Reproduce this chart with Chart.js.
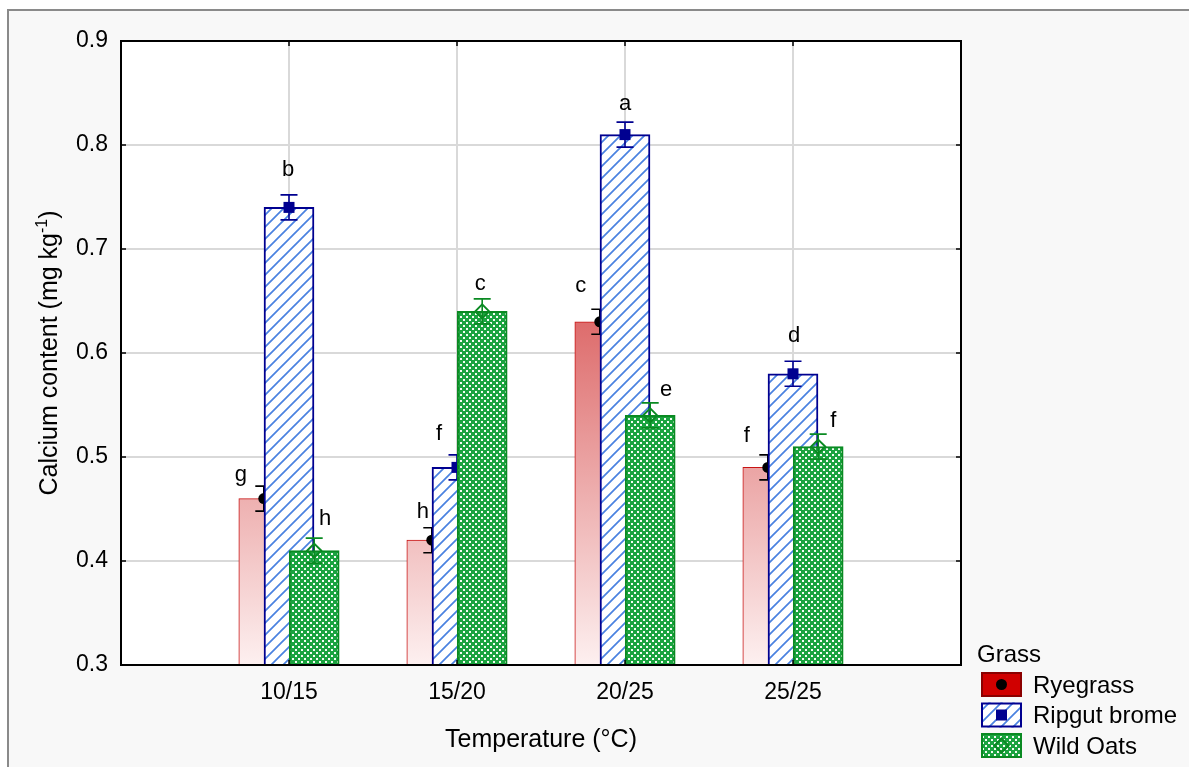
<!DOCTYPE html>
<html lang="en">
<head>
  <meta charset="UTF-8" />
  <title>Calcium content by temperature</title>
  <script src="https://cdn.jsdelivr.net/npm/chart.js"></script>
  <style>
    html, body {
      margin: 0;
      padding: 0;
      width: 1189px;
      height: 767px;
      overflow: hidden;
      background: #fff;
    }
    .frame {
      position: absolute;
      left: 7px;
      top: 9px;
      width: 1200px;
      height: 780px;
      border-top: 2px solid #8a8a8a;
      border-left: 2px solid #8a8a8a;
      background: #f8f8f8;
    }
    #chart {
      position: absolute;
      left: 0;
      top: 0;
    }
  </style>
</head>
<body>
  <div class="frame"></div>
  <canvas id="chart" width="1189" height="767"></canvas>

  <script>
    const temps = ['10/15', '15/20', '20/25', '25/25'];
    const yTicks = [0.3, 0.4, 0.5, 0.6, 0.7, 0.8, 0.9];
    const grassNames = ['Ryegrass', 'Ripgut brome', 'Wild Oats'];

    const ryegrass = [0.46, 0.42, 0.63, 0.49];
    const ripgut   = [0.74, 0.49, 0.81, 0.58];
    const wildOats = [0.41, 0.64, 0.54, 0.51];

    const ryegrassErr = [0.012, 0.012, 0.012, 0.012];
    const ripgutErr   = [0.012, 0.012, 0.012, 0.012];
    const wildOatsErr = [0.012, 0.012, 0.012, 0.012];

    const ryegrassLetters = ['g', 'h', 'c', 'f'];
    const ripgutLetters   = ['b', 'f', 'a', 'd'];
    const wildOatsLetters = ['h', 'c', 'e', 'f'];

    // nudges (px right, px up from the cap) so letters clear the next bar
    const ryegrassNudge = [[-23, 5], [-9, 10], [-19, 17], [-21, 13]];
    const ripgutNudge   = [[-1, 19], [-18, 15], [0, 12], [1, 19]];
    const wildOatsNudge = [[11, 13], [-2, 9], [16, 7], [15, 7]];

    const barShift = 0.15;   // overlap of the three bars, in category units
    const FONT = '"Liberation Sans", Arial, sans-serif';
    const NAVY = '#000090';
    const GREEN = '#0a8a22';

    const canvas = document.getElementById('chart');
    const ctx = canvas.getContext('2d');

    function hatch() {
      const t = document.createElement('canvas');
      t.width = 12; t.height = 12;
      const g = t.getContext('2d');
      g.fillStyle = '#fff';
      g.fillRect(0, 0, 12, 12);
      g.strokeStyle = '#4a82e0';
      g.lineWidth = 1.7;
      g.beginPath();
      g.moveTo(-2, 14); g.lineTo(14, -2);
      g.moveTo(-8, 8); g.lineTo(8, -8);
      g.moveTo(4, 20); g.lineTo(20, 4);
      g.stroke();
      return ctx.createPattern(t, 'repeat');
    }

    function checker() {
      const t = document.createElement('canvas');
      t.width = 6; t.height = 6;
      const g = t.getContext('2d');
      g.fillStyle = '#1aa33f';
      g.fillRect(0, 0, 6, 6);
      g.fillStyle = '#f4fcf4';
      g.fillRect(1, 1, 2, 2);
      g.fillRect(4, 4, 2, 2);
      return ctx.createPattern(t, 'repeat');
    }

    const hatchFill = hatch();
    const checkerFill = checker();

    function redGradient(c) {
      const a = c.chart.chartArea;
      if (!a) return '#e06060';
      const g = c.chart.ctx.createLinearGradient(0, a.bottom, 0, a.top);
      g.addColorStop(0, '#fdf0f0');
      g.addColorStop(1, '#c40000');
      return g;
    }

    function marker(c, kind, x, y, color) {
      c.save();
      c.fillStyle = color;
      c.strokeStyle = color;
      if (kind === 'circle') {
        c.beginPath();
        c.arc(x, y, 5.5, 0, Math.PI * 2);
        c.fill();
      } else if (kind === 'square') {
        c.fillRect(x - 5.5, y - 5.5, 11, 11);
      } else {
        c.lineWidth = 2;
        c.beginPath();
        c.moveTo(x, y - 7); c.lineTo(x + 7, y); c.lineTo(x, y + 7); c.lineTo(x - 7, y);
        c.closePath();
        c.stroke();
      }
      c.restore();
    }

    const series = [
      { vals: ryegrass, err: ryegrassErr, letters: ryegrassLetters, nudge: ryegrassNudge, kind: 'circle', color: '#000' },
      { vals: ripgut, err: ripgutErr, letters: ripgutLetters, nudge: ripgutNudge, kind: 'square', color: NAVY },
      { vals: wildOats, err: wildOatsErr, letters: wildOatsLetters, nudge: wildOatsNudge, kind: 'diamond', color: GREEN }
    ];

    function drawYTitle(c, cx, cy) {
      const big = '25px ' + FONT, small = '16px ' + FONT;
      const a = 'Calcium content (mg kg', sup = '-1', b = ')';
      c.save();
      c.translate(cx, cy);
      c.rotate(-Math.PI / 2);
      c.fillStyle = '#000';
      c.textBaseline = 'alphabetic';
      c.font = big;
      const wa = c.measureText(a).width, wb = c.measureText(b).width;
      c.font = small;
      const ws = c.measureText(sup).width;
      let x = -(wa + ws + wb) / 2;
      c.font = big; c.fillText(a, x, 9); x += wa;
      c.font = small; c.fillText(sup, x, -1); x += ws;
      c.font = big; c.fillText(b, x, 9);
      c.restore();
    }

    function drawLegend(c) {
      const fills = ['#d00000', hatchFill, checkerFill];
      const borders = ['#8b0000', NAVY, GREEN];
      c.save();
      c.fillStyle = '#000';
      c.textBaseline = 'middle';
      c.font = '24px ' + FONT;
      c.fillText('Grass', 977, 655);
      grassNames.forEach((name, i) => {
        const top = 672 + i * 30.5;
        c.fillStyle = fills[i];
        c.fillRect(981, top, 41, 25);
        c.strokeStyle = borders[i];
        c.lineWidth = 2;
        c.strokeRect(982, top + 1, 39, 23);
        marker(c, series[i].kind, 1001.5, top + 12.5, series[i].color);
        c.fillStyle = '#000';
        c.fillText(name, 1033, top + 14);
      });
      c.restore();
    }

    const decor = {
      id: 'decor',
      beforeDraw(chart) {
        const a = chart.chartArea;
        chart.ctx.save();
        chart.ctx.fillStyle = '#fff';
        chart.ctx.fillRect(a.left, a.top, a.width, a.height);
        chart.ctx.restore();
      },
      afterDatasetDraw(chart, args) {
        const s = series[args.index];
        const y = chart.scales.y;
        const c = chart.ctx;
        args.meta.data.forEach((bar, i) => {
          const x = bar.x;
          const yTop = y.getPixelForValue(s.vals[i] + s.err[i]);
          const yBot = y.getPixelForValue(s.vals[i] - s.err[i]);
          c.save();
          c.strokeStyle = s.color;
          c.lineWidth = 1.6;
          c.beginPath();
          c.moveTo(x, yTop); c.lineTo(x, yBot);
          c.moveTo(x - 8.5, yTop); c.lineTo(x + 8.5, yTop);
          c.moveTo(x - 8.5, yBot); c.lineTo(x + 8.5, yBot);
          c.stroke();
          c.restore();
          marker(c, s.kind, x, y.getPixelForValue(s.vals[i]), s.color);
        });
      },
      afterDatasetsDraw(chart) {
        const c = chart.ctx;
        const a = chart.chartArea;
        const {x: xs, y: ys} = chart.scales;

        // letters
        c.save();
        c.fillStyle = '#000';
        c.font = '22px ' + FONT;
        c.textAlign = 'center';
        c.textBaseline = 'alphabetic';
        series.forEach((s, k) => {
          const meta = chart.getDatasetMeta(k);
          meta.data.forEach((bar, i) => {
            const yTop = ys.getPixelForValue(s.vals[i] + s.err[i]);
            c.fillText(s.letters[i], bar.x + s.nudge[i][0], yTop - s.nudge[i][1]);
          });
        });
        c.restore();

        // frame and inward ticks
        c.save();
        c.strokeStyle = '#000';
        c.lineWidth = 2;
        c.strokeRect(a.left, a.top, a.width, a.height);
        c.lineWidth = 1.5;
        c.beginPath();
        ys.ticks.forEach(t => {
          const py = ys.getPixelForValue(t.value);
          c.moveTo(a.left, py); c.lineTo(a.left + 5, py);
          c.moveTo(a.right, py); c.lineTo(a.right - 5, py);
        });
        xs.ticks.forEach(t => {
          const px = xs.getPixelForValue(t.value);
          c.moveTo(px, a.top); c.lineTo(px, a.top + 5);
          c.moveTo(px, a.bottom); c.lineTo(px, a.bottom - 5);
        });
        c.stroke();
        c.restore();
      },
      afterDraw(chart) {
        drawYTitle(chart.ctx, 48, (chart.chartArea.top + chart.chartArea.bottom) / 2);
        drawLegend(chart.ctx);
      }
    };

    Chart.defaults.font.family = FONT;
    Chart.defaults.color = '#000';

    new Chart(ctx, {
      type: 'bar',
      data: {
        datasets: [
          {
            label: grassNames[0],
            data: ryegrass.map((v, i) => ({ x: i + 1 - barShift, y: v })),
            backgroundColor: redGradient,
            borderColor: '#c81414',
            borderWidth: 1,
            order: 3
          },
          {
            label: grassNames[1],
            data: ripgut.map((v, i) => ({ x: i + 1, y: v })),
            backgroundColor: hatchFill,
            borderColor: NAVY,
            borderWidth: 2,
            order: 2
          },
          {
            label: grassNames[2],
            data: wildOats.map((v, i) => ({ x: i + 1 + barShift, y: v })),
            backgroundColor: checkerFill,
            borderColor: GREEN,
            borderWidth: 2,
            order: 1
          }
        ]
      },
      options: {
        responsive: false,
        animation: false,
        events: [],
        layout: { padding: { left: 0, top: 41, right: 228, bottom: 0 } },
        datasets: {
          bar: { grouped: false, barThickness: 50, borderSkipped: false }
        },
        plugins: {
          legend: { display: false },
          tooltip: { enabled: false }
        },
        scales: {
          x: {
            type: 'linear',
            min: 0,
            max: temps.length + 1,
            offset: false,
            afterBuildTicks: s => { s.ticks = temps.map((_, i) => ({ value: i + 1 })); },
            afterFit: s => { s.height = 102; },
            ticks: {
              callback: v => temps[v - 1] || '',
              font: { size: 23 },
              padding: 14,
              maxRotation: 0,
              autoSkip: false
            },
            grid: { color: '#d9d9d9', lineWidth: 2, drawTicks: false, offset: false },
            border: { display: false },
            title: {
              display: true,
              text: 'Temperature (°C)',
              font: { size: 25 },
              padding: { top: 0, bottom: 12 }
            }
          },
          y: {
            min: yTicks[0],
            max: yTicks[yTicks.length - 1],
            afterBuildTicks: s => { s.ticks = yTicks.map(v => ({ value: v })); },
            afterFit: s => { s.width = 121; },
            ticks: {
              callback: v => v.toFixed(1),
              font: { size: 23 },
              padding: 13
            },
            grid: { color: '#d9d9d9', lineWidth: 2, drawTicks: false },
            border: { display: false }
          }
        }
      },
      plugins: [decor]
    });
  </script>
</body>
</html>
